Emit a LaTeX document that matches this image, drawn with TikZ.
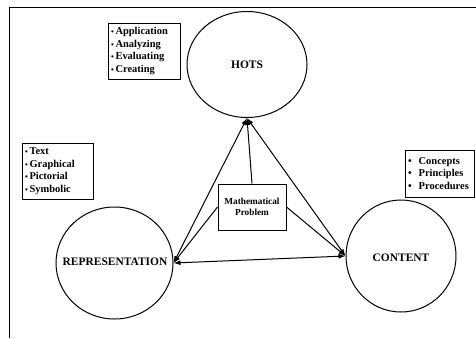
\documentclass[tikz,border=0pt]{standalone}
\usepackage{fontspec}
\setmainfont{Liberation Serif}
\usetikzlibrary{arrows.meta,shapes.geometric}

\newcommand{\dotitem}{{\fontsize{8}{8}\selectfont•}\,}

\begin{document}
\begin{tikzpicture}[
  x=1bp, y=-1bp,
  line width=1bp,
  bubble/.style={draw, ellipse, inner sep=0pt},
  bublabel/.style={font=\fontsize{11.5}{13}\selectfont\bfseries},
  listbox/.style={draw, inner sep=3bp, align=left,
    font=\fontsize{10.5}{12.6}\selectfont\bfseries},
  probbox/.style={draw, inner sep=2bp, align=center,
    minimum width=68bp, minimum height=46bp,
    font=\fontsize{9.3}{11}\selectfont\bfseries},
  oneway/.style={-{Latex[length=7bp,width=5bp]}},
  twoway/.style={{Latex[length=7bp,width=5bp]}-{Latex[length=7bp,width=5bp]}}
]
\useasboundingbox (0,0) rectangle (476,338);
\draw (9,338) -- (9,7) -- (476,7);

% the three circles
\node [bubble, minimum width=120bp, minimum height=106bp] (hots) at (247,64.5) {};
\node [bubble, minimum width=117bp, minimum height=112bp] (rep) at (114.5,263) {};
\node [bubble, minimum width=110bp, minimum height=112bp] (content) at (401,256) {};
\node [bublabel] (hotslabel) at (247,65) {HOTS};
\node [bublabel] (replabel) at (115,262) {REPRESENTATION};
\node [bublabel] (contentlabel) at (401,258) {CONTENT};

% the lists
\node [listbox, text width=66bp, minimum height=56bp] (hotslist) at (144,51)
  {\dotitem Application\\\dotitem Analyzing\\\dotitem Evaluating\\\dotitem Creating};
\node [listbox, text width=65bp, minimum height=56bp] (replist) at (57.5,171)
  {\dotitem Text\\\dotitem Graphical\\\dotitem Pictorial\\\dotitem Symbolic};
\node [listbox, text width=63bp, minimum height=47bp] (contentlist) at (439.5,173.5)
  {•\hspace{7bp}Concepts\\•\hspace{7bp}Principles\\•\hspace{7bp}Procedures};

\node [probbox] (prob) at (252,207) {Mathematical\\Problem};

% connectors
\draw [twoway] (rep.east) -- (hots.south);
\draw [twoway] (content.west) -- (hots.south);
\draw [twoway] (rep.east) -- (content.west);
\draw [oneway] (prob.north) -- (hots.south);
\draw [oneway] (prob.west) -- (rep.east);
\draw [oneway] (prob.east) -- (content.west);
\end{tikzpicture}
\end{document}
